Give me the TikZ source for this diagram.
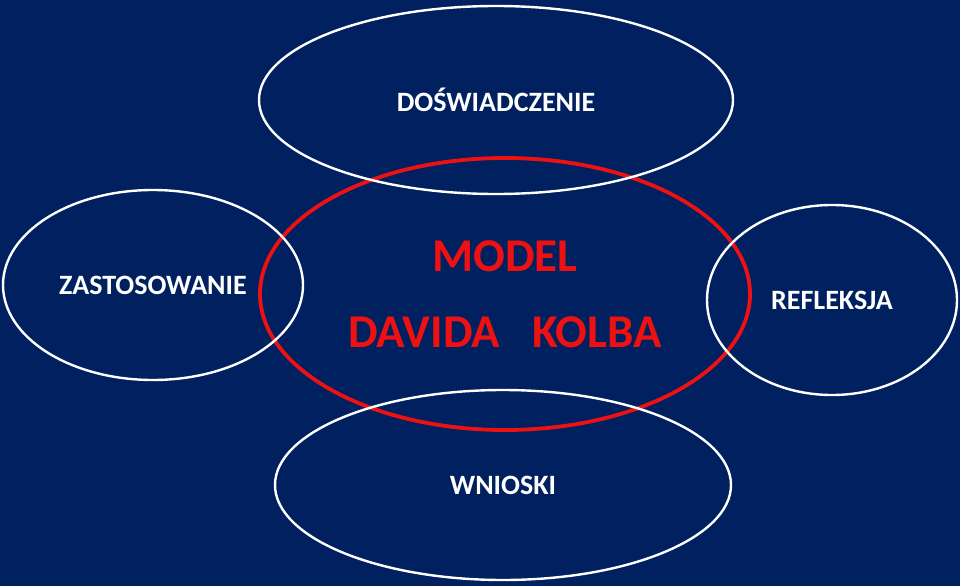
\documentclass[tikz,border=0pt]{standalone}
\usepackage{fontspec}
\setmainfont{Carlito}
\usetikzlibrary{shapes.geometric}
\definecolor{tlo}{HTML}{002060}
\definecolor{czerwony}{HTML}{EE1111}

\begin{document}
\begin{tikzpicture}[x=1pt,y=-1pt,
	owal/.style={ellipse,draw=white,line width=2.4pt,inner sep=0pt,text=white,font=\fontsize{28}{30}\selectfont\bfseries},
	model/.style={ellipse,draw=czerwony,line width=3.8pt,inner sep=0pt,text=czerwony,align=center,font=\fontsize{47}{76}\selectfont\bfseries}]
			\fill[tlo] (0,0) rectangle (960,586);
			\useasboundingbox (0,0) rectangle (960,586);
			\node[model,minimum width=490pt,minimum height=272pt] (kolb) at (505,294) {MODEL\\DAVIDA\ \ \ KOLBA};
			\node[owal,minimum width=474pt,minimum height=188pt] (dosw) at (496,100) {DOŚWIADCZENIE};
			\node[owal,minimum width=300pt,minimum height=190pt] (zast) at (153,285) {ZASTOSOWANIE};
			\node[owal,minimum width=250pt,minimum height=190pt] (refl) at (832,300) {REFLEKSJA};
			\node[owal,minimum width=456pt,minimum height=190pt] (wnio) at (503,485) {WNIOSKI};
		\end{tikzpicture}
\end{document}
